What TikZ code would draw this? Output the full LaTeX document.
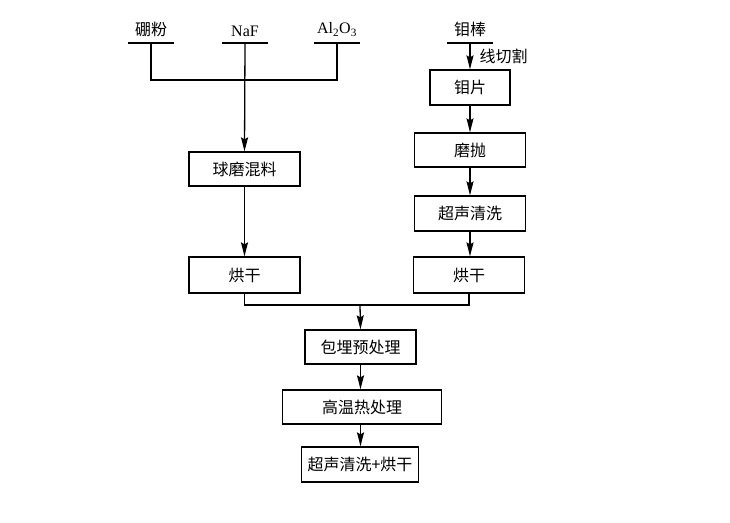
\documentclass[tikz,border=0pt]{standalone}
\usepackage{fontspec}
\setmainfont{Liberation Serif}
\newfontfamily\cjk{Noto Sans CJK SC}
\usetikzlibrary{arrows.meta}

\begin{document}
\begin{tikzpicture}[x=1pt,y=-1pt,line width=1.3pt,
		every node/.style={font=\cjk\fontsize{16}{19}\selectfont,inner sep=0pt},
		box/.style={draw,minimum height=34pt},
		raw/.style={anchor=south,minimum width=45pt,inner ysep=6pt},
		arr/.style={-{Stealth[length=14pt,width=7pt,inset=2pt]}}]
		\useasboundingbox (0,0) rectangle (730,522);
		\node[raw] (pengfen) at (151,43) {硼粉};
		\node[raw,font=\fontsize{16}{19}\selectfont] (naf) at (245,43) {NaF};
		\node[raw,font=\fontsize{16}{19}\selectfont] (alum) at (337,43) {Al\textsubscript{2}O\textsubscript{3}};
		\node[raw] (mubang) at (470,43) {钼棒};
		\foreach \n in {pengfen,naf,alum,mubang}
		\draw (\n.south west) -- (\n.south east);
		\node[box,minimum width=111pt] (qiumo) at (244.5,169) {球磨混料};
		\node[box,minimum width=111pt,minimum height=36pt] (hongL) at (244.5,275) {烘干};
		\node[box,minimum width=80pt,minimum height=35pt] (mupian) at (470,87.5) {钼片};
		\node[box,minimum width=111pt] (mopao) at (470,150) {磨抛};
		\node[box,minimum width=111pt,minimum height=35pt] (chaosheng) at (470,213.5) {超声清洗};
		\node[box,minimum width=111pt,minimum height=36pt] (hongR) at (469,275) {烘干};
		\node[box,minimum width=111pt] (baomai) at (360.5,347) {包埋预处理};
		\node[box,minimum width=159pt] (gaowen) at (362,407) {高温热处理};
		\node[box,minimum width=117pt,minimum height=35pt] (wancheng) at (360,464.5) {超声清洗+烘干};
		\coordinate (hunhe) at (245,80);
		\coordinate (hebing) at (360,305);
		\draw (pengfen.south) |- (hunhe) -| (alum.south);
		\draw[arr] (naf.south) -- (qiumo.north);
		\draw[arr] (qiumo) -- (hongL);
		\draw[arr] (mubang.south) -- node[right=9pt] {线切割} (mupian.north);
		\draw[arr] (mupian) -- (mopao);
		\draw[arr] (mopao) -- (chaosheng);
		\draw[arr] (chaosheng) -- (chaosheng.south |- hongR.north);
		\draw (hongL.south) |- (hebing) -| (hongR.south);
		\draw[arr] (hebing) -- (baomai.north);
		\draw[arr] (baomai) -- (baomai.south |- gaowen.north);
		\draw[arr] (baomai.south |- gaowen.south) -- (wancheng.north -| baomai.south);
\end{tikzpicture}
\end{document}
